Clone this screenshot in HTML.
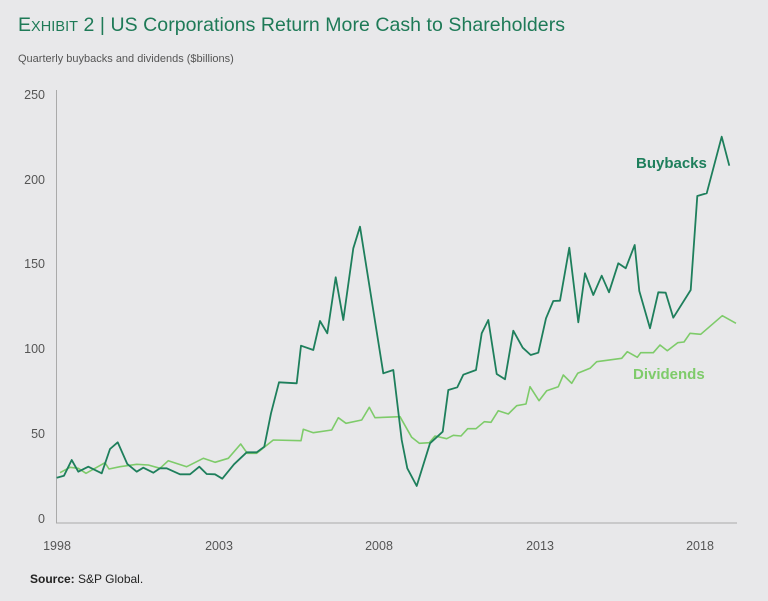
<!DOCTYPE html>
<html><head><style>
body{margin:0;background:#e8e8ea;width:768px;height:601px;overflow:hidden;font-family:"Liberation Sans",sans-serif;}
</style></head><body>
<svg width="768" height="601" xmlns="http://www.w3.org/2000/svg" style="position:absolute;left:0;top:0">
<rect width="768" height="601" fill="#e8e8ea"/>
<text x="18" y="31" font-size="19.5" fill="#1e7a57" font-family="Liberation Sans, sans-serif" textLength="547">E<tspan font-size="14.5">XHIBIT</tspan> 2 | US Corporations Return More Cash to Shareholders</text>
<text x="18" y="62" font-size="11" fill="#555">Quarterly buybacks and dividends ($billions)</text>
<g font-size="12.5" fill="#555" text-anchor="end">
<text x="45" y="99">250</text><text x="45" y="184">200</text><text x="45" y="268">150</text>
<text x="45" y="353">100</text><text x="45" y="438">50</text><text x="45" y="523">0</text>
</g>
<g font-size="12.5" fill="#555" text-anchor="middle">
<text x="57" y="550">1998</text><text x="219" y="550">2003</text><text x="379" y="550">2008</text>
<text x="540" y="550">2013</text><text x="700" y="550">2018</text>
</g>
<line x1="56.5" y1="90" x2="56.5" y2="523" stroke="#aaa" stroke-width="1"/>
<line x1="56" y1="523" x2="737" y2="523" stroke="#aaa" stroke-width="1"/>
<polyline fill="none" stroke="#7ecb6a" stroke-width="1.6" stroke-linejoin="round" points="60,472.7 70,467.3 78.3,468.3 86,473.3 95,468.3 105,462.7 109,469 120,466.7 136.7,464.3 148.3,465 160,468.3 168.3,460.7 186.7,466.7 203.3,458.3 215,462.3 228.3,458.3 240.7,444 247.3,453.3 256.7,453.3 273.3,440 301,440.7 303.3,429.3 313.3,432.7 331.7,430 338.3,417.7 346,423.3 361.7,420 369.3,407.3 375,417.7 400,416.7 411.7,437.3 419.3,443.3 429.3,442.7 435,436 446.7,438.7 453.3,435.3 461,436 467.7,428.7 476,428.7 484.3,421.7 491,422.3 498.3,410.7 508.3,414 516.7,405.7 526,404 530,386.7 539,400.7 546.7,390.7 558.3,386.7 563.3,375 571.7,383.3 577.7,373.3 590,368.3 596.7,361.7 621.7,358.3 627.3,351.7 637.3,357.3 640.7,352.7 653.3,352.7 660,345 667.3,350.7 677.7,342.7 684,342 690,333.3 700.7,334.3 722.3,315.7 736,323.3"/>
<polyline fill="none" stroke="#1e7f5c" stroke-width="1.8" stroke-linejoin="round" points="56.7,477.7 64,475.7 71.7,460 78.3,471.7 88.3,466.7 101.7,473.3 110,449 117.7,442.3 127.3,464 136.7,471.7 143.3,467.7 153.3,472.7 160,468.3 166.7,468.3 180,474.3 190,474.3 199.3,466.7 206.7,474 215,474.3 222.3,478.7 234,464.3 246.7,452.3 256.7,452.3 264.3,446.7 271,413.3 279,382.3 296.7,383.3 301,345.7 313.3,350 320,321 327.3,333.3 335.7,277.3 343.3,320 353.3,248.3 360,226.7 383.3,373.3 393.3,370 401.7,440 407.3,468.3 416.7,486 430,443.3 442.7,431.7 448.3,390 457.3,387.3 463.3,374.7 476,370 481.7,333.3 488.3,320 496.7,374 505,379.3 513.3,330.7 522.7,347.7 530.7,355 538.3,352.7 546,318.3 553.3,301 560,300.7 569.3,247.7 578.3,322.3 585,273.3 593.3,295 601.7,275.7 609,292.3 618.3,263.3 625.7,268.3 634.7,245 639.3,291 650,328.3 658.3,292.3 665.7,292.7 673.3,317.7 690.7,290 697.3,196 706.7,193.3 721.7,136.7 729.3,165.7"/>
<text x="636" y="168" font-size="15" font-weight="bold" fill="#1e7f5c">Buybacks</text>
<text x="633" y="379" font-size="15" font-weight="bold" fill="#7ecb6a">Dividends</text>
<text x="30" y="583" font-size="12" fill="#222"><tspan font-weight="bold">Source:</tspan> S&amp;P Global.</text>
</svg>
</body></html>
